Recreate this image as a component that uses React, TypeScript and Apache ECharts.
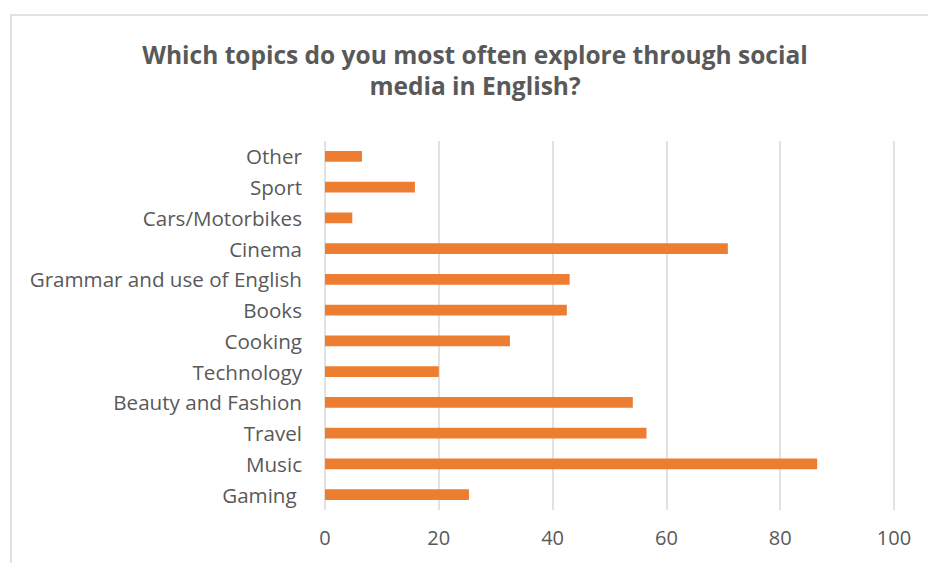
import React, { useEffect, useRef } from "react";
import * as echarts from "echarts";

const categories = [
  "Gaming ",
  "Music",
  "Travel",
  "Beauty and Fashion",
  "Technology",
  "Cooking",
  "Books",
  "Grammar and use of English",
  "Cinema",
  "Cars/Motorbikes",
  "Sport",
  "Other",
];
const values = [25.3, 86.5, 56.5, 54.1, 20.0, 32.5, 42.5, 43.0, 70.8, 4.8, 15.8, 6.5];
const titleText = "Which topics do you most often explore through social\nmedia in English?";

export default function App() {
  const ref = useRef<HTMLDivElement>(null);
  useEffect(() => {
    if (!ref.current) return;
    const chart = echarts.init(ref.current, null, { renderer: "svg" });
    chart.setOption({
      animation: false,
      backgroundColor: "#ffffff",
      graphic: [
        {
          type: "rect",
          shape: { x: 11, y: 15, width: 930, height: 560 },
          style: { fill: "none", stroke: "#d9d9d9", lineWidth: 1.5 },
          z: 0,
        },
        {
          type: "text",
          x: 475,
          y: 39,
          style: {
            text: titleText,
            fontFamily: "Open Sans",
            fontWeight: "bold",
            fontSize: 24.5,
            lineHeight: 31,
            fill: "#595959",
            align: "center",
          },
        },
      ],
      grid: { left: 325, right: 34, top: 141, bottom: 53, containLabel: false },
      xAxis: {
        type: "value",
        min: 0,
        max: 100,
        interval: 20,
        axisLine: { show: false },
        axisTick: { show: false },
        splitLine: { show: true, lineStyle: { color: "#d9d9d9", width: 1.5 } },
        axisLabel: { color: "#595959", fontFamily: "Open Sans", fontSize: 20, margin: 17 },
      },
      yAxis: {
        type: "category",
        data: categories,
        axisLine: { show: false },
        axisTick: { show: false },
        axisLabel: { color: "#595959", fontFamily: "Open Sans", fontSize: 20.6, margin: 23 },
      },
      series: [
        {
          type: "bar",
          data: values,
          barWidth: "35%",
          itemStyle: { color: "#ED7D31" },
        },
      ],
    });
    return () => chart.dispose();
  }, []);
  return <div ref={ref} style={{ position: "fixed", left: 0, top: 0, width: 928, height: 563 }} />;
}
